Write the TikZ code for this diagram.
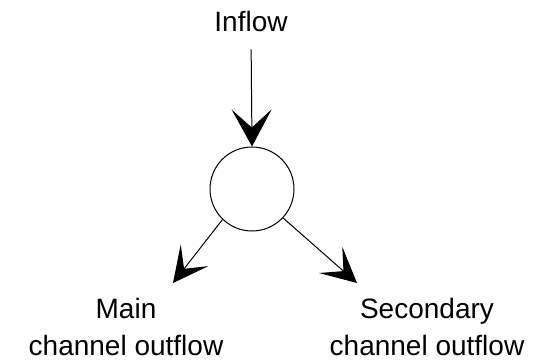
\documentclass[tikz,border=0pt]{standalone}
\usepackage{fontspec}
\setmainfont{Liberation Sans}
\usetikzlibrary{arrows.meta}
\begin{document}
\begin{tikzpicture}[x=1pt,y=-1pt,
  lbl/.style={inner sep=0pt, align=center, font=\fontsize{28}{37}\selectfont},
  junction/.style={draw, circle, line width=1pt, minimum size=84pt, inner sep=0pt},
  flow/.style={line width=1pt, -{Stealth[length=37pt,width=40pt,inset=18pt]}},
  flowsmall/.style={line width=1pt, -{Stealth[length=35pt,width=35pt,inset=17pt]}}]
\useasboundingbox (0,0) rectangle (533,361);
\node[lbl, anchor=base] (inflow) at (251,32) {Inflow};
\node[junction] (circ) at (252,189) {};
\node[lbl, anchor=north] (main) at (126,298) {Main\\channel outflow};
\node[lbl, anchor=north] (sec) at (427,298) {Secondary\\channel outflow};
\coordinate (tipL) at (173,283);
\coordinate (tipR) at (357,283);
\draw[flow, shorten <=17pt] (inflow.south) -- (circ.north);
\draw[flowsmall] (circ.226) -- (tipL);
\draw[flowsmall] (circ.317) -- (tipR);
\end{tikzpicture}
\end{document}
